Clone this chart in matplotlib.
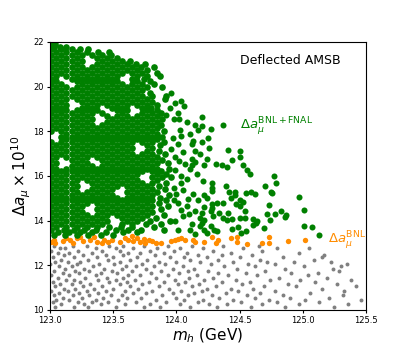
import matplotlib
matplotlib.use("Agg")
import matplotlib.pyplot as plt

# green (BNL+FNAL) points, dense part: (delta a_mu, [m_h values]) per row
green_rows = [
    (21.92, [123.01, 123.04]),
    (21.79, [123.03, 123.08, 123.13]),
    (21.66, [123.01, 123.09, 123.17, 123.24, 123.30]),
    (21.53, [123.05, 123.13, 123.21, 123.29, 123.38, 123.47]),
    (21.40, [123.01, 123.09, 123.17, 123.25, 123.33, 123.41, 123.48]),
    (21.27, [123.05, 123.13, 123.21, 123.37, 123.45, 123.53]),
    (21.14, [123.01, 123.09, 123.17, 123.25, 123.41, 123.49, 123.57, 123.63]),
    (21.01, [123.05, 123.13, 123.21, 123.37, 123.45, 123.53, 123.61, 123.68, 123.75]),
    (20.88, [123.01, 123.09, 123.17, 123.25, 123.33, 123.41, 123.49, 123.57, 123.65, 123.72, 123.82]),
    (20.75, [123.05, 123.13, 123.21, 123.29, 123.37, 123.45, 123.53, 123.61, 123.69, 123.77]),
    (20.62, [123.01, 123.09, 123.17, 123.25, 123.33, 123.41, 123.49, 123.57, 123.65, 123.73, 123.85]),
    (20.49, [123.05, 123.13, 123.21, 123.29, 123.37, 123.45, 123.53, 123.69, 123.77, 123.87]),
    (20.36, [123.01, 123.17, 123.25, 123.33, 123.41, 123.49, 123.65, 123.74]),
    (20.23, [123.05, 123.21, 123.29, 123.37, 123.45, 123.53, 123.69, 123.79]),
    (20.10, [123.01, 123.09, 123.25, 123.33, 123.41, 123.49, 123.57, 123.65, 123.73, 123.82]),
    (19.97, [123.05, 123.13, 123.21, 123.29, 123.37, 123.45, 123.53, 123.61, 123.69, 123.77, 123.89]),
    (19.84, [123.01, 123.09, 123.17, 123.25, 123.33, 123.41, 123.49, 123.57, 123.65, 123.73]),
    (19.71, [123.05, 123.13, 123.21, 123.29, 123.37, 123.45, 123.53, 123.61, 123.69, 123.79]),
    (19.58, [123.01, 123.09, 123.17, 123.25, 123.33, 123.41, 123.49, 123.57, 123.65, 123.73, 123.81, 123.92]),
    (19.45, [123.05, 123.13, 123.21, 123.29, 123.37, 123.45, 123.53, 123.61, 123.69, 123.77, 123.91]),
    (19.32, [123.01, 123.09, 123.25, 123.33, 123.41, 123.49, 123.57, 123.65, 123.73, 123.81]),
    (19.19, [123.05, 123.13, 123.29, 123.37, 123.45, 123.53, 123.61, 123.69, 123.77, 123.85]),
    (19.06, [123.01, 123.09, 123.25, 123.33, 123.49, 123.57, 123.73, 123.80]),
    (18.93, [123.05, 123.13, 123.21, 123.29, 123.37, 123.53, 123.61, 123.77, 123.85]),
    (18.80, [123.01, 123.09, 123.17, 123.25, 123.33, 123.41, 123.57, 123.73, 123.81, 123.88]),
    (18.67, [123.05, 123.13, 123.21, 123.29, 123.45, 123.53, 123.61, 123.69, 123.77, 123.85]),
    (18.54, [123.01, 123.09, 123.17, 123.25, 123.33, 123.49, 123.57, 123.65, 123.73, 123.81, 123.89]),
    (18.41, [123.05, 123.13, 123.21, 123.29, 123.45, 123.53, 123.61, 123.69, 123.77, 123.85]),
    (18.28, [123.01, 123.09, 123.17, 123.25, 123.33, 123.41, 123.49, 123.57, 123.65, 123.73, 123.81, 123.88]),
    (18.15, [123.05, 123.13, 123.21, 123.29, 123.37, 123.45, 123.53, 123.61, 123.69, 123.77, 123.85]),
    (18.02, [123.01, 123.09, 123.17, 123.25, 123.33, 123.41, 123.49, 123.57, 123.65, 123.73, 123.81, 123.90]),
    (17.89, [123.13, 123.21, 123.29, 123.37, 123.45, 123.53, 123.61, 123.69, 123.77, 123.85]),
    (17.76, [123.09, 123.17, 123.25, 123.33, 123.41, 123.49, 123.57, 123.65, 123.73, 123.81, 123.89]),
    (17.63, [123.13, 123.21, 123.29, 123.37, 123.45, 123.53, 123.61, 123.69, 123.77, 123.85]),
    (17.50, [123.01, 123.09, 123.17, 123.25, 123.33, 123.41, 123.49, 123.57, 123.65, 123.73, 123.81, 123.90]),
    (17.37, [123.05, 123.13, 123.21, 123.29, 123.37, 123.45, 123.53, 123.61, 123.77, 123.87]),
    (17.24, [123.01, 123.09, 123.17, 123.25, 123.33, 123.41, 123.49, 123.57, 123.65, 123.81]),
    (17.11, [123.05, 123.13, 123.21, 123.29, 123.37, 123.45, 123.53, 123.61, 123.77, 123.86]),
    (16.98, [123.01, 123.09, 123.17, 123.25, 123.33, 123.41, 123.49, 123.57, 123.65, 123.73, 123.81, 123.91]),
    (16.85, [123.05, 123.13, 123.21, 123.29, 123.37, 123.45, 123.53, 123.61, 123.69, 123.77, 123.85]),
    (16.72, [123.01, 123.17, 123.25, 123.41, 123.49, 123.57, 123.65, 123.73, 123.81, 123.89]),
    (16.59, [123.05, 123.21, 123.29, 123.45, 123.53, 123.61, 123.69, 123.77, 123.85, 123.93]),
    (16.46, [123.01, 123.17, 123.25, 123.33, 123.41, 123.49, 123.57, 123.65, 123.73, 123.81]),
    (16.33, [123.05, 123.13, 123.21, 123.29, 123.37, 123.45, 123.53, 123.61, 123.69, 123.77, 123.85, 123.94]),
    (16.20, [123.01, 123.09, 123.17, 123.25, 123.33, 123.41, 123.49, 123.57, 123.65, 123.73, 123.81, 123.88]),
    (16.07, [123.05, 123.13, 123.21, 123.29, 123.37, 123.45, 123.53, 123.61, 123.69, 123.85, 123.92]),
    (15.94, [123.01, 123.09, 123.17, 123.25, 123.33, 123.41, 123.49, 123.57, 123.65, 123.81, 123.89, 123.96]),
    (15.81, [123.05, 123.13, 123.21, 123.29, 123.37, 123.45, 123.53, 123.61, 123.69, 123.85]),
    (15.68, [123.01, 123.09, 123.17, 123.33, 123.41, 123.49, 123.57, 123.65, 123.73, 123.81, 123.92]),
    (15.55, [123.05, 123.13, 123.21, 123.37, 123.45, 123.53, 123.61, 123.69, 123.77, 123.86]),
    (15.42, [123.01, 123.09, 123.17, 123.33, 123.41, 123.49, 123.65, 123.73, 123.81, 123.91]),
    (15.29, [123.05, 123.13, 123.21, 123.29, 123.37, 123.45, 123.61, 123.69, 123.77, 123.85]),
    (15.16, [123.01, 123.09, 123.17, 123.25, 123.33, 123.41, 123.49, 123.65, 123.73, 123.81, 123.94]),
    (15.03, [123.05, 123.13, 123.21, 123.29, 123.37, 123.45, 123.53, 123.61, 123.69, 123.77, 123.87]),
    (14.90, [123.01, 123.09, 123.17, 123.25, 123.33, 123.41, 123.49, 123.57, 123.65, 123.73, 123.81, 123.92]),
    (14.77, [123.05, 123.13, 123.21, 123.29, 123.37, 123.45, 123.53, 123.61, 123.69, 123.77, 123.86]),
    (14.64, [123.01, 123.09, 123.17, 123.25, 123.41, 123.49, 123.57, 123.65, 123.73, 123.81, 123.93]),
    (14.51, [123.05, 123.13, 123.21, 123.37, 123.45, 123.53, 123.61, 123.69, 123.77, 123.88]),
    (14.38, [123.01, 123.09, 123.17, 123.25, 123.41, 123.49, 123.57, 123.65, 123.73, 123.81]),
    (14.25, [123.05, 123.13, 123.21, 123.29, 123.37, 123.45, 123.53, 123.61, 123.69, 123.77, 123.90]),
    (14.12, [123.01, 123.09, 123.17, 123.25, 123.33, 123.41, 123.57, 123.65, 123.73, 123.84]),
    (13.99, [123.05, 123.13, 123.21, 123.29, 123.37, 123.45, 123.61, 123.69, 123.79, 123.95]),
    (13.86, [123.01, 123.09, 123.17, 123.25, 123.33, 123.41, 123.57, 123.65, 123.76, 123.88]),
    (13.73, [123.05, 123.13, 123.21, 123.29, 123.37, 123.47, 123.56, 123.65, 123.82]),
    (13.60, [123.01, 123.11, 123.19, 123.27, 123.36, 123.52, 123.62, 123.72, 123.90]),
    (13.47, [123.06, 123.15, 123.24, 123.33, 123.44, 123.58, 123.69]),
    (13.36, [123.03, 123.12, 123.21, 123.30, 123.40, 123.50]),
]

# green points in the thinner tail towards larger m_h: (m_h, delta a_mu)
green_tail = [
    (123.99, 19.26), (124.04, 19.34), (124.06, 19.15), (123.98, 18.54), (124.02, 18.56),
    (124.08, 18.42), (124.15, 18.27), (124.20, 18.22), (124.20, 18.64), (124.17, 18.06),
    (124.27, 18.12), (124.37, 18.28), (124.03, 18.05), (124.11, 17.87), (124.04, 17.78),
    (124.13, 17.57), (124.20, 17.52), (124.25, 17.69), (124.26, 17.27), (124.12, 17.42),
    (124.15, 17.12), (124.19, 16.97), (124.41, 17.16), (124.50, 17.12), (124.50, 16.84),
    (124.44, 16.72), (124.36, 16.50), (124.31, 16.52), (124.40, 16.40), (124.24, 16.74),
    (124.22, 16.47), (124.15, 16.62), (124.12, 16.74), (124.12, 16.47), (124.07, 16.52),
    (124.11, 16.29), (124.16, 16.07), (124.04, 15.99), (124.08, 15.84), (124.21, 15.77),
    (124.28, 15.69), (124.53, 16.47), (124.56, 16.25), (124.58, 16.07), (124.39, 15.54),
    (124.70, 15.53), (124.04, 15.69), (124.28, 15.47), (123.98, 15.47), (124.05, 15.39),
    (124.13, 15.17), (124.17, 14.94), (124.24, 15.02), (124.28, 14.72), (124.32, 14.79),
    (123.98, 14.94), (124.01, 14.79), (124.08, 14.64), (124.04, 14.49), (124.15, 14.42),
    (124.20, 14.35), (124.19, 14.12), (124.22, 14.04), (124.27, 14.42), (124.29, 14.19),
    (124.34, 14.35), (124.37, 14.12), (124.40, 14.04), (124.41, 14.35), (123.99, 13.97),
    (124.19, 13.74), (124.22, 13.60), (124.27, 13.74), (124.32, 13.52), (124.01, 13.60),
    (124.77, 15.99), (124.79, 15.70), (124.75, 15.27), (124.97, 15.05), (124.73, 14.70),
    (125.01, 14.48), (124.83, 14.45), (124.78, 14.31), (124.72, 14.29), (124.87, 14.26),
    (124.86, 14.15), (124.74, 14.04), (125.01, 13.74), (125.07, 13.73), (125.13, 13.36),
    (124.69, 13.65), (124.42, 15.27), (124.46, 15.26), (124.55, 15.24), (124.59, 15.29),
    (124.62, 15.18), (124.43, 15.03), (124.46, 15.14), (124.50, 14.93), (124.53, 14.84),
    (124.47, 14.75), (124.50, 14.64), (124.54, 14.45), (124.44, 14.08), (124.50, 14.12),
    (124.54, 14.10), (124.61, 14.08), (124.64, 14.00), (124.61, 13.78), (124.63, 13.87),
    (124.44, 13.61), (124.49, 13.72), (124.51, 13.45), (124.55, 13.55), (124.22, 15.14),
    (124.28, 15.32), (124.22, 14.61), (124.28, 14.57), (124.37, 14.79), (124.76, 15.24),
    (124.20, 13.90), (124.24, 13.45), (124.30, 13.60), (124.11, 13.58), (124.15, 13.42),
    (123.96, 19.70), (123.95, 19.02), (123.92, 18.72), (124.01, 18.80), (123.97, 17.70),
    (124.01, 17.45), (123.96, 17.22), (124.05, 17.05), (123.99, 16.85), (124.02, 16.65),
    (123.99, 16.28), (124.00, 15.20), (124.09, 14.95), (124.10, 14.30), (124.05, 14.20),
    (124.12, 13.85),
]

# orange (BNL only) band: (m_h, delta a_mu)
orange_pts = [
    (123.01, 13.05), (123.04, 12.98), (123.03, 13.14), (123.10, 13.10), (123.13, 13.20),
    (123.16, 13.12), (123.18, 13.01), (123.21, 13.22), (123.26, 13.09), (123.24, 13.27),
    (123.32, 13.15), (123.35, 13.28), (123.37, 13.06), (123.41, 13.01), (123.43, 13.13),
    (123.46, 13.05), (123.49, 13.11), (123.55, 13.04), (123.59, 13.22), (123.62, 13.15),
    (123.65, 13.29), (123.66, 13.10), (123.69, 13.21), (123.71, 13.05), (123.74, 13.17),
    (123.75, 12.99), (123.78, 13.12), (123.81, 13.07), (123.84, 13.01), (123.88, 12.99),
    (123.96, 13.07), (123.99, 13.13), (124.01, 13.18), (124.04, 13.21), (124.07, 13.11),
    (124.13, 13.12), (124.15, 13.04), (124.22, 13.06), (124.28, 13.25), (124.33, 13.15),
    (124.31, 13.00), (124.43, 13.24), (124.48, 13.25), (124.48, 13.03), (124.56, 12.93),
    (124.68, 13.00), (124.73, 13.26), (124.73, 13.00), (124.88, 13.08), (125.02, 13.12),
]

# grey points (excluded): (delta a_mu, [m_h values]) per row
grey_rows = [
    (12.85, [123.03, 123.18, 123.29, 123.47, 123.58, 123.74, 123.93, 124.12, 124.37, 124.65]),
    (12.75, [123.08, 123.12, 123.36, 123.52, 123.66, 123.85, 124.03, 124.21, 124.53, 124.80, 125.05]),
    (12.65, [123.01, 123.22, 123.41, 123.55, 123.79, 123.98, 124.29, 124.68]),
    (12.55, [123.06, 123.15, 123.33, 123.62, 123.71, 123.90, 124.08, 124.43, 124.97]),
    (12.45, [123.11, 123.26, 123.44, 123.58, 123.83, 124.17, 124.36, 124.60, 125.17]),
    (12.35, [123.02, 123.19, 123.37, 123.50, 123.69, 123.95, 124.06, 124.24, 124.50, 124.84, 125.15]),
    (12.25, [123.09, 123.30, 123.46, 123.63, 123.77, 124.11, 124.33, 124.66, 125.09]),
    (12.15, [123.04, 123.14, 123.24, 123.55, 123.86, 124.00, 124.19, 124.45, 124.72, 124.93, 125.22]),
    (12.05, [123.00, 123.21, 123.39, 123.51, 123.73, 123.91, 124.27, 124.57, 124.78, 125.35]),
    (11.95, [123.07, 123.17, 123.34, 123.60, 123.68, 123.82, 124.05, 124.38, 124.62, 125.01, 125.30]),
    (11.85, [123.12, 123.27, 123.43, 123.57, 123.76, 123.97, 124.14, 124.48, 124.86, 125.24]),
    (11.75, [123.03, 123.20, 123.31, 123.49, 123.65, 123.88, 124.09, 124.25, 124.70, 125.29]),
    (11.65, [123.10, 123.23, 123.40, 123.53, 123.80, 124.02, 124.33, 124.55, 124.91, 125.12]),
    (11.55, [123.01, 123.15, 123.36, 123.62, 123.71, 123.93, 124.16, 124.41, 124.64, 125.04]),
    (11.45, [123.06, 123.28, 123.45, 123.58, 123.84, 124.10, 124.29, 124.81, 125.19]),
    (11.35, [123.13, 123.19, 123.38, 123.52, 123.67, 123.99, 124.22, 124.47, 124.74, 124.98, 125.38]),
    (11.25, [123.02, 123.24, 123.47, 123.61, 123.78, 123.90, 124.07, 124.36, 124.58, 125.10]),
    (11.15, [123.08, 123.17, 123.32, 123.55, 123.73, 124.01, 124.18, 124.52, 124.88, 125.27]),
    (11.05, [123.04, 123.26, 123.41, 123.63, 123.86, 124.12, 124.31, 124.69, 124.95, 125.42]),
    (10.95, [123.11, 123.20, 123.35, 123.50, 123.70, 123.94, 124.24, 124.43, 124.61, 125.15]),
    (10.85, [123.01, 123.14, 123.29, 123.44, 123.59, 123.81, 124.04, 124.20, 124.49, 124.78, 125.33]),
    (10.75, [123.07, 123.23, 123.38, 123.66, 123.76, 123.97, 124.14, 124.39, 124.66, 125.06]),
    (10.65, [123.03, 123.18, 123.31, 123.48, 123.57, 123.89, 124.09, 124.28, 124.56, 124.84, 125.32]),
    (10.55, [123.10, 123.25, 123.42, 123.61, 123.72, 124.00, 124.34, 124.62, 124.90, 125.21]),
    (10.45, [123.05, 123.15, 123.36, 123.54, 123.84, 124.06, 124.21, 124.45, 124.73, 125.02, 125.46]),
    (10.35, [123.02, 123.22, 123.33, 123.46, 123.68, 123.92, 124.17, 124.51, 124.80, 125.13]),
    (10.25, [123.09, 123.27, 123.40, 123.59, 123.79, 124.03, 124.26, 124.40, 124.68, 124.97, 125.36]),
    (10.15, [123.04, 123.19, 123.30, 123.52, 123.74, 123.87, 124.11, 124.32, 124.59, 124.86, 125.25]),
]

x_ticks = [123.0, 123.5, 124.0, 124.5, 125.0, 125.5]
y_ticks = [10, 12, 14, 16, 18, 20, 22]


def from_rows(rows):
    mh, amu = [], []
    for a, ms in rows:
        mh += ms
        amu += [a] * len(ms)
    return mh, amu


grey_mh, grey_amu = from_rows(grey_rows)
dense_mh, dense_amu = from_rows(green_rows)
tail_mh = [p[0] for p in green_tail]
tail_amu = [p[1] for p in green_tail]
orange_mh = [p[0] for p in orange_pts]
orange_amu = [p[1] for p in orange_pts]

fig = plt.figure(figsize=(4.07, 3.49), dpi=100)
ax = fig.add_axes([0.123, 0.112, 0.776, 0.768])

ax.scatter(grey_mh, grey_amu, s=8, c="grey", linewidths=0)
ax.scatter(orange_mh, orange_amu, s=15, c="darkorange", linewidths=0)
ax.scatter(dense_mh, dense_amu, s=23, c="green", linewidths=0)
ax.scatter(tail_mh, tail_amu, s=19, c="green", linewidths=0)

ax.set_xlim(123.0, 125.5)
ax.set_ylim(10, 22)
ax.set_xticks(x_ticks)
ax.set_xticklabels([f"{t:.1f}" for t in x_ticks])
ax.set_yticks(y_ticks)
ax.tick_params(labelsize=6, length=2.5, pad=2)
ax.set_xlabel(r"$m_h$ (GeV)", fontsize=11, labelpad=1)
ax.set_ylabel(r"$\Delta a_\mu \times 10^{10}$", fontsize=11, labelpad=0)

ax.text(124.5, 21.0, "Deflected AMSB", fontsize=9, va="baseline")
ax.text(124.5, 18.09, r"$\Delta a_\mu^{\rm BNL+FNAL}$", fontsize=9.5, color="green", va="baseline")
ax.text(125.2, 13.0, r"$\Delta a_\mu^{\rm BNL}$", fontsize=9.5, color="darkorange", va="baseline")

fig.savefig("out.png", dpi=100)
